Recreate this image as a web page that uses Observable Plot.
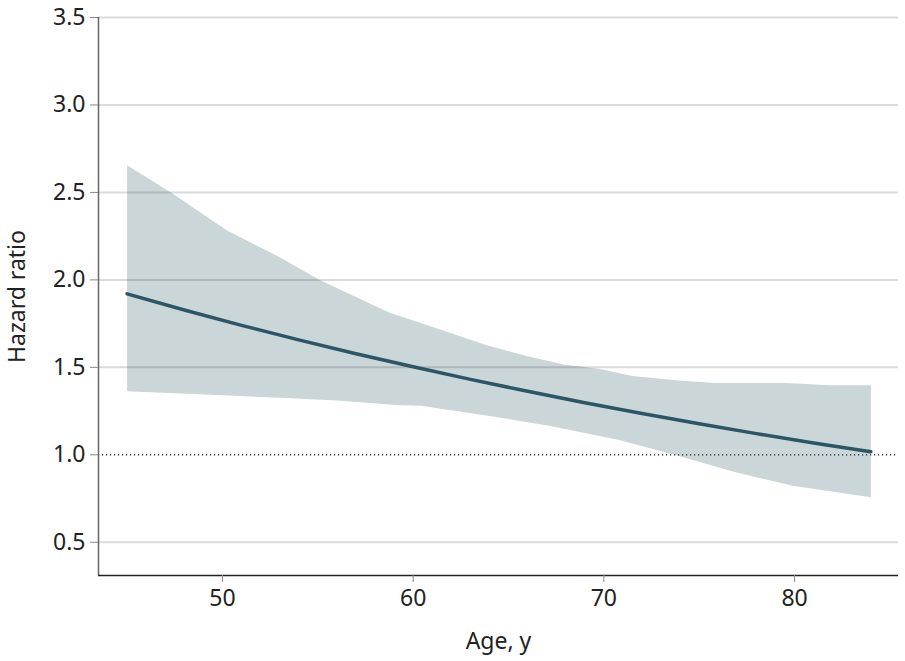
<!DOCTYPE html>
<html><head><meta charset="utf-8">
<script src="https://cdn.jsdelivr.net/npm/d3@7"></script>
<script src="https://cdn.jsdelivr.net/npm/@observablehq/plot@0.6"></script>
<style>
body{margin:0;background:#fff;}
#chart svg{font-family:"Noto Sans","Open Sans",sans-serif !important;}
#chart svg text{font-size:23px !important;fill:#222;}
</style>
</head><body><div id="chart"></div>
<script>
// Fitted hazard ratio by age
const lineAges = [45, 48, 51, 54, 57, 60, 63, 66, 69, 72, 75, 78, 81, 84];
const lineHR   = [1.92, 1.828, 1.740, 1.657, 1.578, 1.503, 1.431, 1.363, 1.298, 1.236, 1.177, 1.121, 1.068, 1.017];

// 95% CI band edges
const upperAges = [45, 47.3, 50.2, 53.1, 55.1, 58.8, 60.4, 63.9, 66, 67.9, 69.8, 71.5, 73.9, 75.9, 79.6, 81.8, 84];
const upperHR   = [2.655, 2.50, 2.285, 2.124, 2.00, 1.81, 1.753, 1.625, 1.564, 1.516, 1.49, 1.45, 1.425, 1.41, 1.41, 1.397, 1.397];
const lowerAges = [45, 50, 53, 56, 59.3, 60.4, 64, 67.2, 70.8, 73.7, 76.9, 79.9, 84];
const lowerHR   = [1.364, 1.34, 1.326, 1.31, 1.283, 1.28, 1.222, 1.165, 1.084, 1.0, 0.9, 0.823, 0.757];

const xTicks = [50, 60, 70, 80];
const yTicks = [0.5, 1.0, 1.5, 2.0, 2.5, 3.0, 3.5];
const gridValues = [0.5, 1.5, 2.0, 2.5, 3.0, 3.5];
const refValue = [1.0];

const lineData = lineAges.map((a, i) => ({age: a, hr: lineHR[i]}));
// band polygon: upper edge left->right, then lower edge right->left
const bandData = [
  ...upperAges.map((a, i) => ({age: a, hr: upperHR[i]})),
  ...lowerAges.map((a, i) => ({age: a, hr: lowerHR[i]})).reverse()
];

const xDomain = [43.5, 85.45];
const yDomain = [0.31, 3.5];

const chart = Plot.plot({
  width: 905,
  height: 661,
  marginLeft: 98,
  marginRight: 7,
  marginTop: 17,
  marginBottom: 86,
  style: {fontSize: "23px", color: "#222", background: "#fff", overflow: "visible"},
  x: {domain: xDomain},
  y: {domain: yDomain},
  marks: [
    Plot.line(bandData, {x: "age", y: "hr", fill: "#cbd6d9", stroke: "none", curve: "linear"}),
    Plot.ruleY(gridValues, {stroke: "#000", strokeOpacity: 0.14, strokeWidth: 2}),
    Plot.ruleY(refValue, {stroke: "#222", strokeDasharray: "1.2,2.8", strokeWidth: 1.3}),
    Plot.line(lineData, {x: "age", y: "hr", stroke: "#2c5566", strokeWidth: 3.5, curve: "monotone-x"}),
    Plot.ruleX([xDomain[0]], {stroke: "#666", strokeWidth: 1.5}),
    Plot.ruleY([yDomain[0]], {stroke: "#222", strokeWidth: 1.5}),
    Plot.axisX({ticks: xTicks, tickSize: 7, tickPadding: 7, stroke: "#888", label: "Age, y", labelAnchor: "center", labelArrow: "none", labelOffset: 73}),
    Plot.axisY({ticks: yTicks, tickSize: 8, tickPadding: 5, stroke: "#888", tickFormat: d => d.toFixed(1), label: "Hazard ratio", labelAnchor: "center", labelArrow: "none", labelOffset: 90})
  ]
});
document.getElementById("chart").appendChild(chart);
</script>
</body></html>
